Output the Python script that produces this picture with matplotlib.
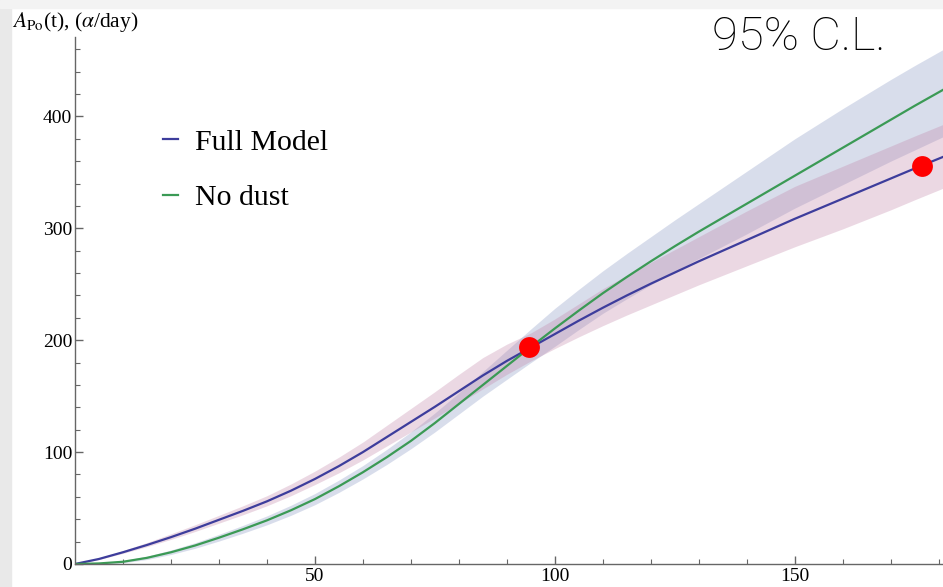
import numpy as np
import matplotlib
matplotlib.use("Agg")
import matplotlib.pyplot as plt
from matplotlib.patches import Rectangle
from matplotlib.lines import Line2D

# ---- data ----
t = [0, 5, 10, 15, 20, 25, 30, 35, 40, 45, 50, 55, 60, 65, 70, 75, 80, 85, 90, 95,
     100, 105, 110, 115, 120, 125, 130, 135, 140, 145, 150, 155, 160, 165, 170, 175, 181]
full_model = [0, 4.5, 10.5, 17, 24, 31.5, 39.5, 47.5, 56, 65.5, 76, 87.5, 100, 113.5, 127, 140.5, 154.5, 168.5, 181.5, 193.5,
              205.5, 217.5, 229, 240, 250.5, 260.5, 270.5, 280, 289.5, 299, 308.5, 317.5, 326.5, 335.5, 344.5, 353.5, 364]
full_err_lo = [0, 0.5, 1, 1.5, 2, 2.5, 3, 3.5, 4, 4.5, 5, 6, 7, 8, 9, 10, 11, 12, 12, 12,
               13, 14.5, 16, 17.5, 19, 20, 21, 22, 23, 24, 25, 26, 27, 27.5, 28, 28, 28]
full_err_hi = [0, 0.8, 1.5, 2.2, 3, 3.5, 4, 4.5, 5, 6, 7, 8, 9, 10.5, 12, 13.5, 15, 16, 15, 13,
               13.5, 15, 17, 18, 19, 20.5, 22, 24, 26, 27.5, 29, 29, 29, 29, 29, 29, 29]
no_dust = [0, 0.5, 2, 5.5, 10.5, 16.5, 23.5, 31, 39, 48, 58, 69.5, 82, 95.5, 110, 126, 143, 160, 177, 194,
           210.5, 226.5, 242, 256.5, 270.5, 284, 297, 309.5, 322, 334.5, 347, 359.5, 372, 384.5, 397, 409.5, 424]
nd_err_lo = [0, 0.3, 1, 1.5, 2, 2.5, 3, 3.5, 4, 4.5, 5, 5.5, 6, 6.5, 7, 8, 9, 10, 12, 14,
             16, 17, 18, 19.5, 21, 22.5, 24, 25.5, 27, 28, 29, 31, 33, 35, 37, 39.5, 42]
nd_err_hi = [0, 0.3, 1, 1.5, 2, 2.5, 3, 3.5, 4, 4.5, 5, 5.5, 6, 7, 8, 9, 10, 12, 14, 16,
             18, 19, 20, 21, 22, 23.5, 25, 27, 29, 31, 33, 34, 35, 35.5, 36, 36, 36]
dot_t = [94.7, 176.6]
dot_v = [193.8, 356]
xticks_major = [50, 100, 150]
yticks_major = [0, 100, 200, 300, 400]
legend_labels = ["Full Model", "No dust"]

plt.rcParams['mathtext.fontset'] = 'stix'
serif = ['Liberation Serif', 'DejaVu Serif']

W, H = 943, 587
fig = plt.figure(figsize=(W / 100, H / 100), dpi=100)
fig.patch.set_facecolor('white')
fig.patches.append(Rectangle((0, 0), 11 / W, 1, transform=fig.transFigure, color='#e9e9e9', zorder=0))
fig.patches.append(Rectangle((0, 1 - 8 / H), 1, 8 / H, transform=fig.transFigure, color='#f3f3f3', zorder=0))

ax = fig.add_axes([75 / W, (H - 564) / H, (W - 75) / W, (564 - 37) / H])
ax.set_facecolor('none')

fm = np.array(full_model)
nd = np.array(no_dust)
blue = '#3d3d9c'
green = '#3b9a55'
ax.fill_between(t, nd - np.array(nd_err_lo), nd + np.array(nd_err_hi),
                color=(128/255, 145/255, 192/255), alpha=0.3, lw=0)
ax.fill_between(t, fm - np.array(full_err_lo), fm + np.array(full_err_hi),
                color=(192/255, 128/255, 165/255), alpha=0.3, lw=0)
ax.plot(t, full_model, color=blue, lw=1.6, solid_joinstyle='round')
ax.plot(t, no_dust, color=green, lw=1.6, solid_joinstyle='round')
ax.plot(dot_t, dot_v, 'o', color='#ff0000', ms=15, mec='none', zorder=5, clip_on=False)

ax.set_xlim(0, 180.9)
ax.set_ylim(0, 471)
for s in ['top', 'right']:
    ax.spines[s].set_visible(False)
for s in ['left', 'bottom']:
    ax.spines[s].set_color('#666666')
    ax.spines[s].set_linewidth(1.0)

ax.set_xticks(xticks_major)
ax.set_xticks(np.arange(10, 181, 10), minor=True)
ax.set_yticks(yticks_major)
ax.set_yticks(np.arange(20, 471, 20), minor=True)
ax.tick_params(which='both', direction='in', color='#666666')
ax.tick_params(which='major', length=6, width=1)
ax.tick_params(which='minor', length=3.5, width=0.8)
ax.tick_params(axis='x', pad=3)
ax.tick_params(axis='y', pad=2)
for lab in ax.get_xticklabels() + ax.get_yticklabels():
    lab.set_family(serif)
    lab.set_fontsize(14)

handles = [Line2D([], [], color=blue, lw=1.6), Line2D([], [], color=green, lw=1.6)]
leg = ax.legend(handles, legend_labels, loc='upper left', bbox_to_anchor=(163 / W, 1 - 129 / H),
                bbox_transform=fig.transFigure, frameon=False, handlelength=0.5, handletextpad=0.57,
                labelspacing=0.95, borderpad=0, borderaxespad=0, prop={'family': serif, 'size': 21.5})

fig.text(12 / W, 1 - 22 / H, r"$A_{\rm Po}$(t), ($\alpha$/day)", family=serif, fontsize=15.5,
         ha='left', va='center')
fig.text(712 / W, 1 - 37 / H, "95% C.L.", family=['Roboto', 'DejaVu Sans'], fontweight='light',
         fontsize=34, ha='left', va='center')

fig.savefig('out.png', dpi=100, facecolor=fig.get_facecolor())
